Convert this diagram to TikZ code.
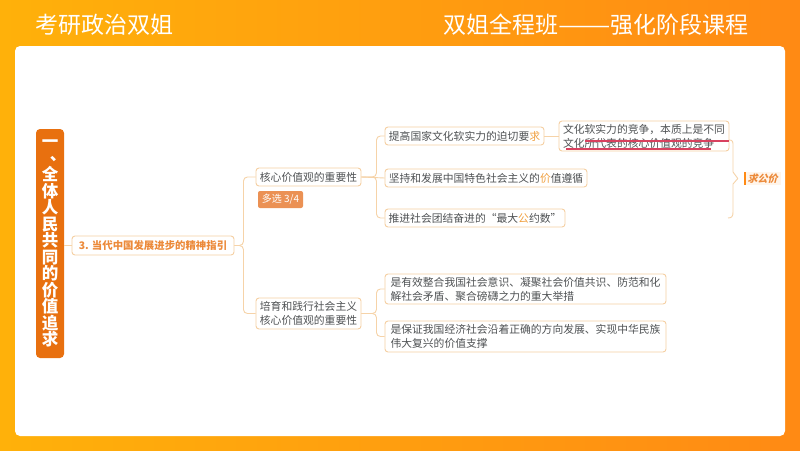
\documentclass[tikz,border=0pt]{standalone}
\usepackage{fontspec}
\setmainfont{Noto Sans CJK SC}
\newfontfamily\slantcjk[FakeSlant=0.25]{Noto Sans CJK SC}
\definecolor{bgleft}{HTML}{FFB10A}
\definecolor{bgright}{HTML}{FF8A14}
\definecolor{linecol}{HTML}{F6D3A8}
\definecolor{boxedge}{HTML}{F5CFA2}
\definecolor{mainor}{HTML}{E8700F}
\definecolor{textcol}{HTML}{4F5254}
\definecolor{accent}{HTML}{F0A040}
\definecolor{headcol}{HTML}{EC8A3A}
\definecolor{tagcol}{HTML}{EB9154}
\definecolor{redline}{HTML}{D8415F}
\newcommand{\hl}[1]{\textcolor{accent}{#1}}
\tikzset{
  mbox/.style 2 args={draw=boxedge,line width=0.9pt,rounded corners=3pt,fill=white,inner sep=0pt,
    minimum width=#1,minimum height=#2,align=left,text=textcol,font=\fontsize{10.8}{14}\selectfont},
  conn/.style={draw=linecol,line width=0.9pt,rounded corners=4pt},
  titletext/.style={text=white,inner sep=0pt,font=\fontsize{23}{26}\selectfont},
  redstroke/.style={draw=redline,line width=1.3pt}
}
\begin{document}
\begin{tikzpicture}[x=1pt,y=-1pt]
\useasboundingbox (0,0) rectangle (800,450);
\shade[left color=bgleft,right color=bgright] (0,0) rectangle (800,450);
\fill[white,rounded corners=5pt] (15,46) rectangle (785,436);
\node[titletext,anchor=west] (t1) at (35,25) {考研政治双姐};
\node[titletext,anchor=east] (t2) at (749,25) {双姐全程班\scalebox{1.36}[1]{——}强化阶段课程};

\node[fill=mainor,rounded corners=4pt,text=white,inner sep=0pt,minimum width=28pt,minimum height=229pt,align=center,
  font=\fontsize{16.5}{16.5}\selectfont\bfseries] (main) at (50,243.5)
  {一\\\makebox[0pt]{\hspace{16pt}\raisebox{4pt}{、}}\\全\\体\\人\\民\\共\\同\\的\\价\\值\\追\\求};
\node[mbox={162pt}{19pt},text=headcol,font=\fontsize{10.4}{12}\selectfont\bfseries] (n3) at (153,245.5) {3. 当代中国发展进步的精神指引};
\node[mbox={105pt}{18pt}] (a) at (308.5,177) {核心价值观的重要性};
\node[fill=tagcol,rounded corners=2pt,text=white,inner sep=0pt,minimum width=45pt,minimum height=17pt,font=\fontsize{10}{12}\selectfont] (tag) at (280.5,199.5) {多选 3/4};
\node[mbox={105pt}{31pt}] (b) at (308.5,313.5) {培育和践行社会主义\\核心价值观的重要性};
\node[mbox={159pt}{18pt}] (a1) at (464.5,136) {提高国家文化软实力的迫切要\hl{求}};
\node[mbox={170pt}{30pt}] (a1x) at (644,136) {文化软实力的竞争，本质上是不同\\文化所代表的核心价值观的竞争};
\node[mbox={202pt}{18pt}] (a2) at (486,178) {坚持和发展中国特色社会主义的\hl{价}值遵循};
\node[mbox={180pt}{18pt}] (a3) at (475,218) {推进社会团结奋进的“最大\hl{公}约数”};
\node[mbox={281pt}{30pt}] (b1) at (525.5,289) {是有效整合我国社会意识、凝聚社会价值共识、防范和化\\解社会矛盾、聚合磅礴之力的重大举措};
\node[mbox={281pt}{31pt}] (b2) at (525.5,336.5) {是保证我国经济社会沿着正确的方向发展、实现中华民族\\伟大复兴的价值支撑};
\node[fill=orange!8,inner sep=0pt,minimum width=37pt,minimum height=13pt,text=headcol,font=\fontsize{10}{12}\slantcjk\bfseries] (sum) at (762.5,178.5) {求公价};
\fill[bgright] (sum.north west) rectangle ([xshift=2pt]sum.south west);

\draw[conn] (n3.west) -- (main.east |- n3.west);
\draw[conn] (n3.east) -- ++(9,0) |- (a.west);
\draw[conn] (n3.east) -- ++(9,0) |- (b.west);
\draw[conn] (a.east) -- ++(15,0) |- (a1.west);
\draw[conn] (a.east) -- (a2.west);
\draw[conn] (a.east) -- ++(15,0) |- (a3.west);
\draw[conn] (a1.east) -- (a1x.west);
\draw[conn] (b.east) -- ++(15,0) |- (b1.west);
\draw[conn] (b.east) -- ++(15,0) |- (b2.west);

\coordinate (bracetop) at (729,140);
\coordinate (bracebot) at (728,218);
\coordinate (bracetip) at ([xshift=-6pt]sum.west);
\draw[draw=linecol,line width=0.9pt,line join=round]
  (bracetop) .. controls (733,140) and (733,142) .. (733,146) -- (733,172)
  -- (bracetip) -- (733,184) -- (733,212) .. controls (733,216) and (732,218) .. (bracebot);

\coordinate (strikeL) at (585,141);
\coordinate (strikeR) at (729,141);
\coordinate (underL) at (566,149);
\coordinate (underR) at (711,149);
\draw[redstroke] (strikeL) -- (strikeR);
\draw[redstroke] (underL) -- (underR);
\end{tikzpicture}
\end{document}
